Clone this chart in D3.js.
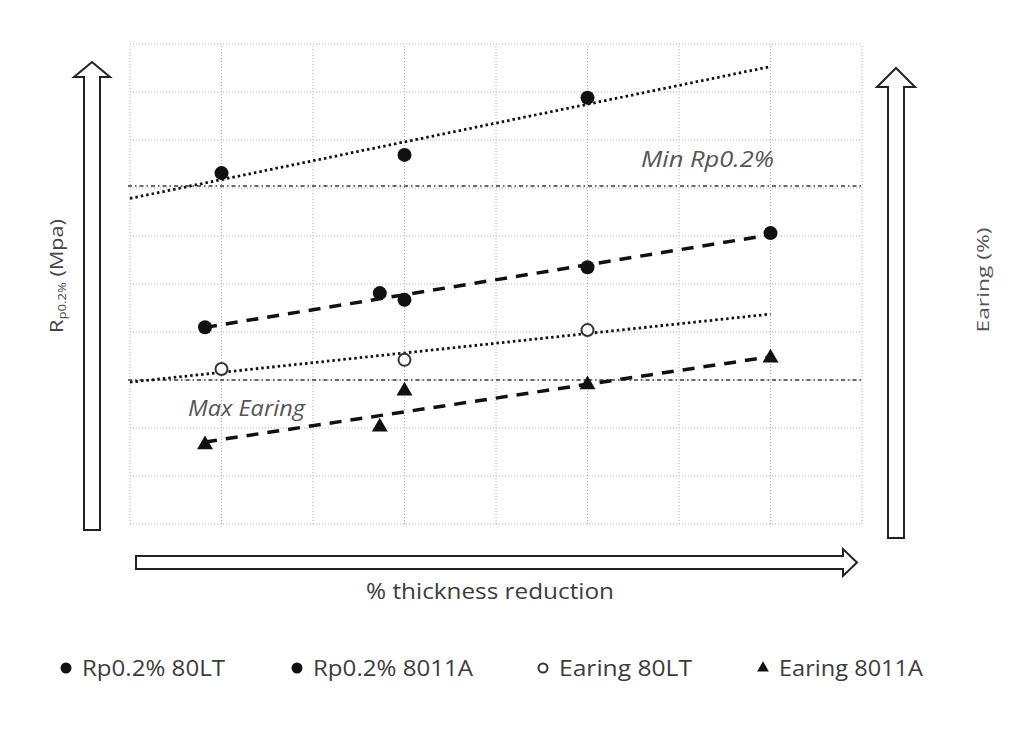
<!DOCTYPE html>
<html>
<head>
<meta charset="utf-8">
<script src="https://cdn.jsdelivr.net/npm/d3@7/dist/d3.min.js"></script>
<style>
  body { margin: 0; background: #fff; }
  svg text { font-family: 'Open Sans', sans-serif; fill: #3c3c3c; }
</style>
</head>
<body>
<div id="chart"></div>
<script>
// grid: x every 10 % (0..80), y relative units (0..10)
const xTicks = d3.range(0, 81, 10);
const yTicks = d3.range(0, 11, 1);

// Rp0.2% 80LT
const xRp80LT = [10, 30, 50];
const yRp80LT = [7.31, 7.69, 8.88];
// Rp0.2% 8011A
const xRp8011A = [8.2, 27.3, 30, 50, 70];
const yRp8011A = [4.10, 4.81, 4.67, 5.35, 6.06];
// Earing 80LT
const xEar80LT = [10, 30, 50];
const yEar80LT = [3.23, 3.42, 4.04];
// Earing 8011A
const xEar8011A = [8.2, 27.3, 30, 50, 70];
const yEar8011A = [1.63, 2.0, 2.75, 2.88, 3.44];

// limits
const minRp = 7.04;
const maxEaring = 3.0;

// trendline extents (x)
const trend80LT = [0, 70];
const trend8011A = [8.2, 70];

const legendLabels = ['Rp0.2% 80LT', 'Rp0.2% 8011A', 'Earing 80LT', 'Earing 8011A'];

const width = 1024;
const height = 736;
const plot = { left: 130, right: 862, top: 44, bottom: 524 };

const svg = d3.select('#chart')
  .append('svg')
  .attr('width', width)
  .attr('height', height);

const x = d3.scaleLinear().domain([0, 80]).range([plot.left, plot.right]);
const y = d3.scaleLinear().domain([0, 10]).range([plot.bottom, plot.top]);

// grid
svg.append('g')
  .selectAll('line')
  .data(xTicks)
  .enter()
  .append('line')
  .attr('x1', (d) => x(d))
  .attr('x2', (d) => x(d))
  .attr('y1', y(0))
  .attr('y2', y(10))
  .attr('stroke', '#b0b0b0')
  .attr('stroke-width', 1)
  .attr('stroke-dasharray', '1,2');

svg.append('g')
  .selectAll('line')
  .data(yTicks)
  .enter()
  .append('line')
  .attr('x1', x(0))
  .attr('x2', x(80))
  .attr('y1', (d) => y(d))
  .attr('y2', (d) => y(d))
  .attr('stroke', '#b0b0b0')
  .attr('stroke-width', 1)
  .attr('stroke-dasharray', '1,2');

// limit lines
[minRp, maxEaring].forEach((v) => {
  svg.append('line')
    .attr('x1', x(0) - 2)
    .attr('x2', x(80))
    .attr('y1', y(v))
    .attr('y2', y(v))
    .attr('stroke', '#6a6a6a')
    .attr('stroke-width', 2)
    .attr('stroke-dasharray', '4,3,1.5,3');
});

svg.append('text')
  .attr('x', 641)
  .attr('y', y(minRp) - 19)
  .attr('font-size', 21)
  .attr('font-style', 'italic')
  .attr('textLength', 133)
  .attr('lengthAdjust', 'spacingAndGlyphs')
  .style('fill', '#555')
  .text('Min Rp0.2%');

svg.append('text')
  .attr('x', 188)
  .attr('y', y(maxEaring) + 36)
  .attr('font-size', 21)
  .attr('font-style', 'italic')
  .attr('textLength', 117)
  .attr('lengthAdjust', 'spacingAndGlyphs')
  .style('fill', '#555')
  .text('Max Earing');

// least squares fit
function fit(xs, ys) {
  const mx = d3.mean(xs);
  const my = d3.mean(ys);
  let sxy = 0;
  let sxx = 0;
  xs.forEach((v, i) => {
    sxy += (v - mx) * (ys[i] - my);
    sxx += (v - mx) * (v - mx);
  });
  const slope = sxy / sxx;
  return (v) => my + slope * (v - mx);
}

function trendline(xs, ys, extent, dash, w) {
  const f = fit(xs, ys);
  svg.append('line')
    .attr('x1', x(extent[0]))
    .attr('x2', x(extent[1]))
    .attr('y1', y(f(extent[0])))
    .attr('y2', y(f(extent[1])))
    .attr('stroke', '#111')
    .attr('stroke-width', w)
    .attr('stroke-dasharray', dash);
}

trendline(xRp80LT, yRp80LT, trend80LT, '2.5,3', 2.8);
trendline(xEar80LT, yEar80LT, trend80LT, '2.5,3', 2.8);
trendline(xRp8011A, yRp8011A, trend8011A, '12,9', 3.5);
trendline(xEar8011A, yEar8011A, trend8011A, '12,9', 3.5);

// markers
function circles(xs, ys, filled) {
  svg.append('g')
    .selectAll('circle')
    .data(xs)
    .enter()
    .append('circle')
    .attr('cx', (d) => x(d))
    .attr('cy', (d, i) => y(ys[i]))
    .attr('r', filled ? 7 : 6)
    .attr('fill', filled ? '#111' : '#fff')
    .attr('stroke', filled ? 'none' : '#333')
    .attr('stroke-width', 2);
}

circles(xRp80LT, yRp80LT, true);
circles(xRp8011A, yRp8011A, true);
circles(xEar80LT, yEar80LT, false);

const tri = d3.symbol().type(d3.symbolTriangle).size(110);
svg.append('g')
  .selectAll('path')
  .data(xEar8011A)
  .enter()
  .append('path')
  .attr('d', tri)
  .attr('transform', (d, i) => `translate(${x(d)},${y(yEar8011A[i]) - 1})`)
  .attr('fill', '#111');

// hollow arrows
function arrow(pts) {
  svg.append('path')
    .attr('d', d3.line()(pts) + 'Z')
    .attr('fill', '#fff')
    .attr('stroke', '#222')
    .attr('stroke-width', 2)
    .attr('stroke-linejoin', 'miter');
}

// left (Rp)
arrow([[84, 530], [84, 77], [74, 77], [92, 62], [110, 77], [100, 77], [100, 530]]);
// right (Earing)
arrow([[888, 538], [888, 87], [877, 87], [896, 68], [915, 87], [904, 87], [904, 538]]);
// bottom (thickness)
arrow([[136, 556], [843, 556], [843, 549], [857, 562.5], [843, 576], [843, 569], [136, 569]]);

// axis titles
svg.append('text')
  .attr('x', 366)
  .attr('y', 599)
  .attr('font-size', 21)
  .attr('textLength', 248)
  .attr('lengthAdjust', 'spacingAndGlyphs')
  .text('% thickness reduction');

const yl = svg.append('text')
  .attr('transform', 'translate(63,276) rotate(-90) scale(1.2,1)')
  .attr('text-anchor', 'middle')
  .attr('font-size', 18)
  .style('fill', '#444');
yl.append('tspan').text('R');
yl.append('tspan').attr('font-size', 11).attr('dy', 3).text('p0.2%');
yl.append('tspan').attr('dy', -3).text(' (Mpa)');

svg.append('text')
  .attr('transform', 'translate(989,280) rotate(-90)')
  .attr('text-anchor', 'middle')
  .attr('font-size', 17)
  .attr('textLength', 105)
  .attr('lengthAdjust', 'spacingAndGlyphs')
  .style('fill', '#555')
  .text('Earing (%)');

// legend
const legendX = [66, 297, 543, 763];
const legendLen = [143, 160, 133, 144];
const legend = svg.append('g')
  .selectAll('g')
  .data(legendLabels)
  .enter()
  .append('g')
  .attr('transform', (d, i) => `translate(${legendX[i]},668)`);

legend.each(function (d, i) {
  const g = d3.select(this);
  if (i < 2) {
    g.append('circle').attr('r', 5.5).attr('fill', '#111');
  } else if (i === 2) {
    g.append('circle').attr('r', 4.5).attr('fill', '#fff').attr('stroke', '#333').attr('stroke-width', 2);
  } else {
    g.append('path').attr('d', d3.symbol().type(d3.symbolTriangle).size(60)).attr('fill', '#111');
  }
  g.append('text')
    .attr('x', 16)
    .attr('y', 8)
    .attr('font-size', 21)
    .attr('textLength', legendLen[i])
    .attr('lengthAdjust', 'spacingAndGlyphs')
    .text(d);
});
</script>
</body>
</html>
